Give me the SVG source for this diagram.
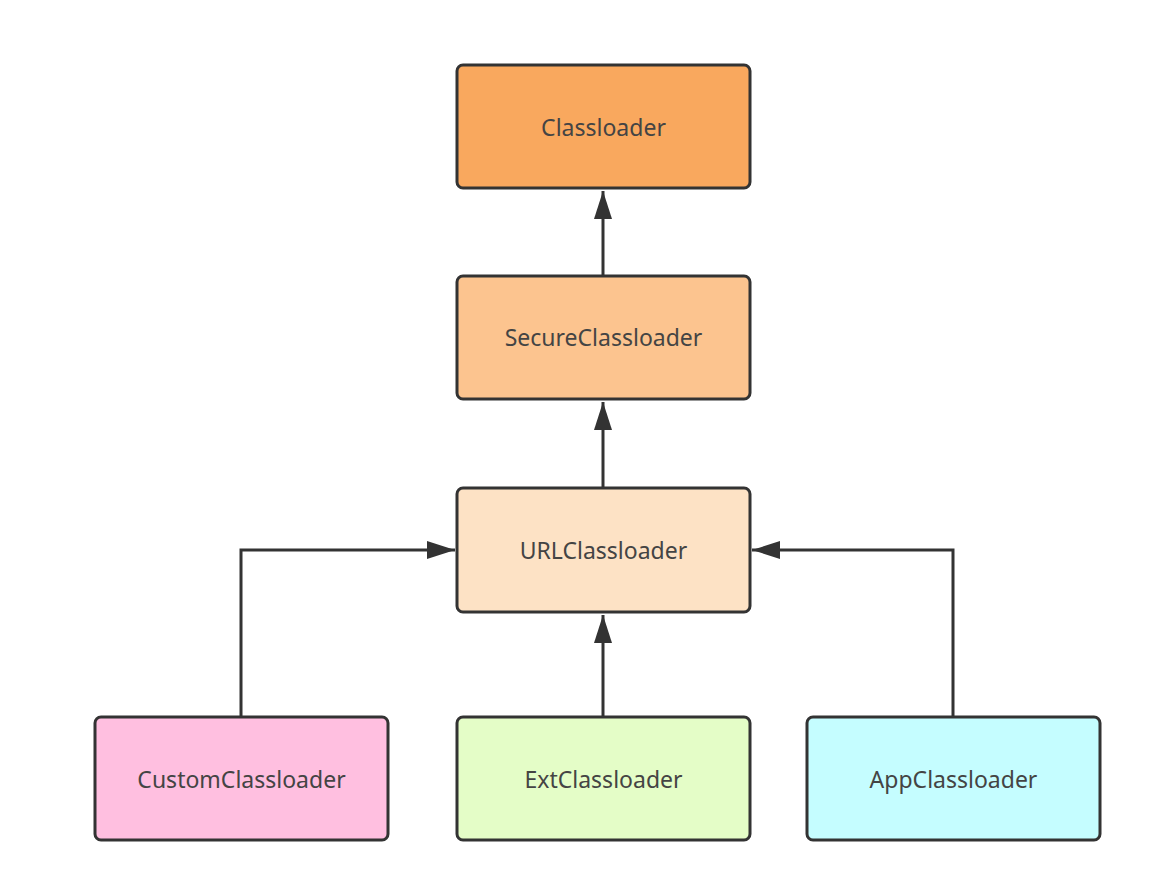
<svg xmlns="http://www.w3.org/2000/svg" width="1153" height="875" viewBox="0 0 1153 875">
<defs>
<style>
.box{stroke:#333;stroke-width:3;}
.lbl{font-family:"Noto Sans","Open Sans",sans-serif;font-size:23px;fill:#444;text-anchor:middle;dominant-baseline:central;}
.edge{fill:none;stroke:#333;stroke-width:3;}
</style>
<marker id="ah" viewBox="0 0 28 18" refX="28" refY="9" markerWidth="28" markerHeight="18" markerUnits="userSpaceOnUse" orient="auto">
<path d="M0,0 L28,9 L0,18 Z" fill="#333"/>
</marker>
</defs>
<rect width="1153" height="875" fill="#fff"/>
<g id="connectors">
<path class="edge" d="M603,276 L603,191" marker-end="url(#ah)"/>
<path class="edge" d="M603,488 L603,402" marker-end="url(#ah)"/>
<path class="edge" d="M603,717 L603,615" marker-end="url(#ah)"/>
<path class="edge" d="M241,717 L241,550 L455,550" marker-end="url(#ah)"/>
<path class="edge" d="M953,717 L953,550 L752,550" marker-end="url(#ah)"/>
</g>
<g id="classloader">
<rect class="box" x="457" y="65" width="293" height="123" rx="6" fill="#F9A85E"/>
<text class="lbl" x="603.5" y="127">Classloader</text>
</g>
<g id="secureclassloader">
<rect class="box" x="457" y="276" width="293" height="123" rx="6" fill="#FCC48F"/>
<text class="lbl" x="603.5" y="337">SecureClassloader</text>
</g>
<g id="urlclassloader">
<rect class="box" x="457" y="488" width="293" height="124" rx="6" fill="#FDE2C5"/>
<text class="lbl" x="603.5" y="550">URLClassloader</text>
</g>
<g id="customclassloader">
<rect class="box" x="95" y="717" width="293" height="123" rx="6" fill="#FFBFE0"/>
<text class="lbl" x="241.5" y="779">CustomClassloader</text>
</g>
<g id="extclassloader">
<rect class="box" x="457" y="717" width="293" height="123" rx="6" fill="#E4FDC7"/>
<text class="lbl" x="603.5" y="779">ExtClassloader</text>
</g>
<g id="appclassloader">
<rect class="box" x="807" y="717" width="293" height="123" rx="6" fill="#C5FDFF"/>
<text class="lbl" x="953.5" y="779">AppClassloader</text>
</g>
</svg>
